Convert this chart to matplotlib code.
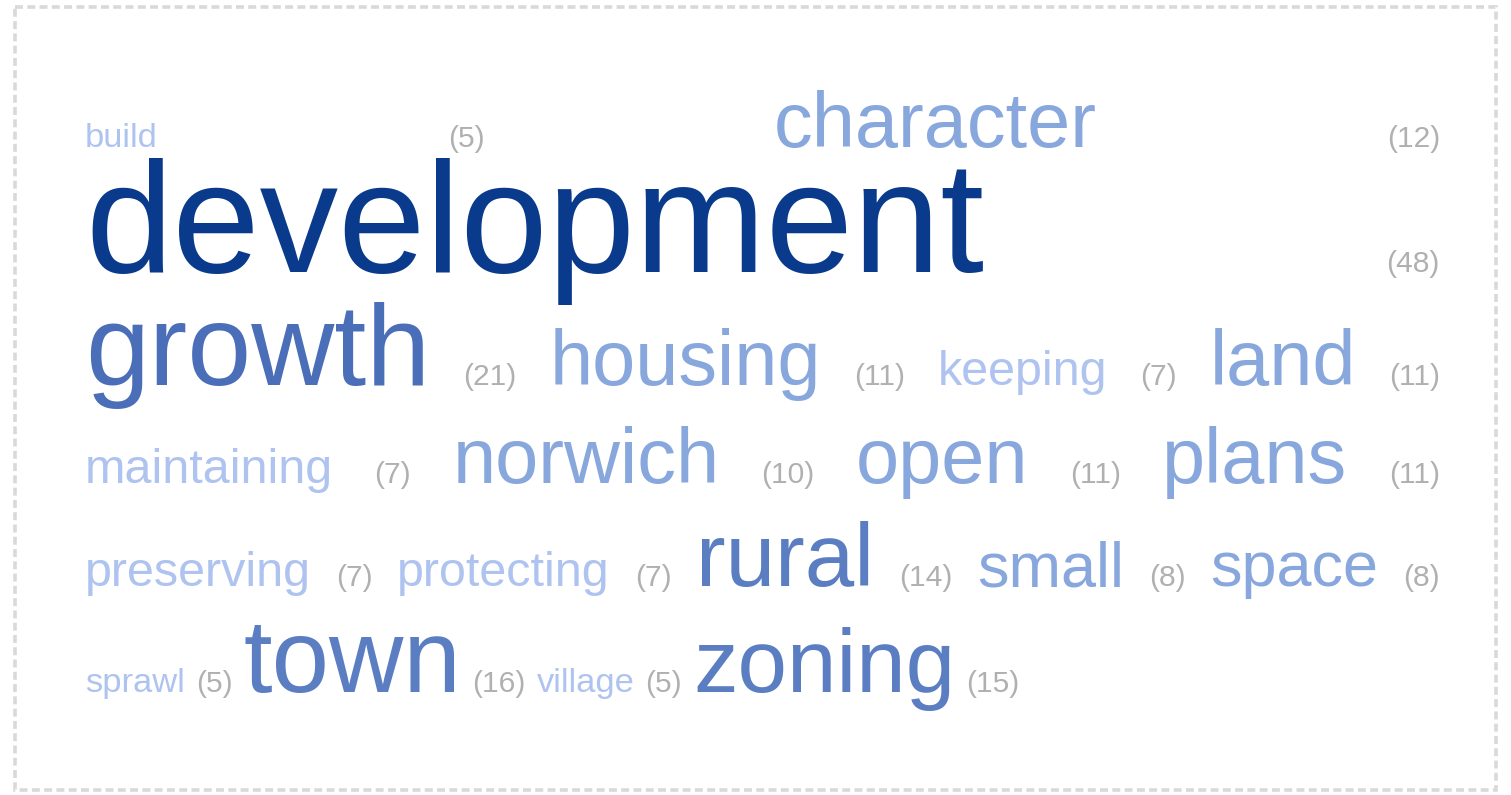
import numpy as np
import matplotlib
matplotlib.use('Agg')
import matplotlib.pyplot as plt
from matplotlib.patches import Rectangle

# word cloud data (word, count), in display order
words = ['build', 'character', 'development', 'growth', 'housing', 'keeping', 'land',
         'maintaining', 'norwich', 'open', 'plans', 'preserving', 'protecting', 'rural',
         'small', 'space', 'sprawl', 'town', 'village', 'zoning']
counts = [5, 12, 48, 21, 11, 7, 11, 7, 10, 11, 11, 7, 7, 14, 8, 8, 5, 16, 5, 15]

W, H, DPI = 1511, 795, 100
left, right, top = 85, 1440, 147      # content box (pixels), first baseline
gap_min = 11                           # natural space between tokens
count_px = 30
font = 'Liberation Sans'

# font size classes (min count -> pixel size)
size_steps = [(5, 34.5), (7, 48.5), (8, 63), (10, 77.5), (14, 89), (16, 103), (21, 115), (40, 157)]
# colour classes (min count -> colour)
color_steps = [(5, '#aec3ef'), (8, '#88a7dd'), (13, '#5b7dc2'), (20, '#4a6eb8'), (40, '#0a3a8c')]


def step(table, c):
    out = table[0][1]
    for lim, v in table:
        if c >= lim:
            out = v
    return out


def line_gap(prev, cur):
    # baseline-to-baseline distance from the biggest font in each row
    return max(0.213 * prev + 0.692 * cur, 98 + 0.5 * (min(cur, 94) - 78))


fig = plt.figure(figsize=(W / DPI, H / DPI), dpi=DPI)
ax = fig.add_axes([0, 0, 1, 1])
ax.set_xlim(0, W)
ax.set_ylim(H, 0)
ax.axis('off')
renderer = fig.canvas.get_renderer()

# dashed frame
ax.add_patch(Rectangle((15, 7), W - 30, H - 12, fill=False, ec='#d9d9d9', lw=2.6,
                       ls=(0, (2.2, 1.2))))

# build tokens: each word plus its count
units = []
for w, c in zip(words, counts):
    px = step(size_steps, c)
    tw = ax.text(0, 0, w, fontsize=px * 72 / DPI, family=font,
                 color=step(color_steps, c), va='baseline')
    tc = ax.text(0, 0, '(%d)' % c, fontsize=count_px * 72 / DPI, family=font,
                 color='#b0b0b0', va='baseline')
    ww = tw.get_window_extent(renderer).width
    wc = tc.get_window_extent(renderer).width
    units.append({'items': [(tw, ww), (tc, wc)], 'size': px})

# greedy wrap, word + count kept together
rows = []
cur = []
cur_w = 0
for u in units:
    uw = u['items'][0][1] + gap_min + u['items'][1][1]
    if cur and cur_w + gap_min + uw > right - left:
        rows.append(cur)
        cur = []
        cur_w = 0
    cur_w = uw if not cur else cur_w + gap_min + uw
    cur.append(u)
rows.append(cur)

baseline = top
prev_size = None
for ri, row in enumerate(rows):
    size = max(u['size'] for u in row)
    if prev_size is not None:
        baseline += line_gap(prev_size, size)
    prev_size = size
    items = [it for u in row for it in u['items']]
    total = sum(w for _, w in items)
    if ri < len(rows) - 1 and len(items) > 1:
        gap = (right - left - total) / (len(items) - 1)
    else:
        gap = gap_min
    x = left
    for t, w in items:
        t.set_position((x, baseline))
        x += w + gap

fig.savefig('out.png', dpi=DPI, facecolor='white')
